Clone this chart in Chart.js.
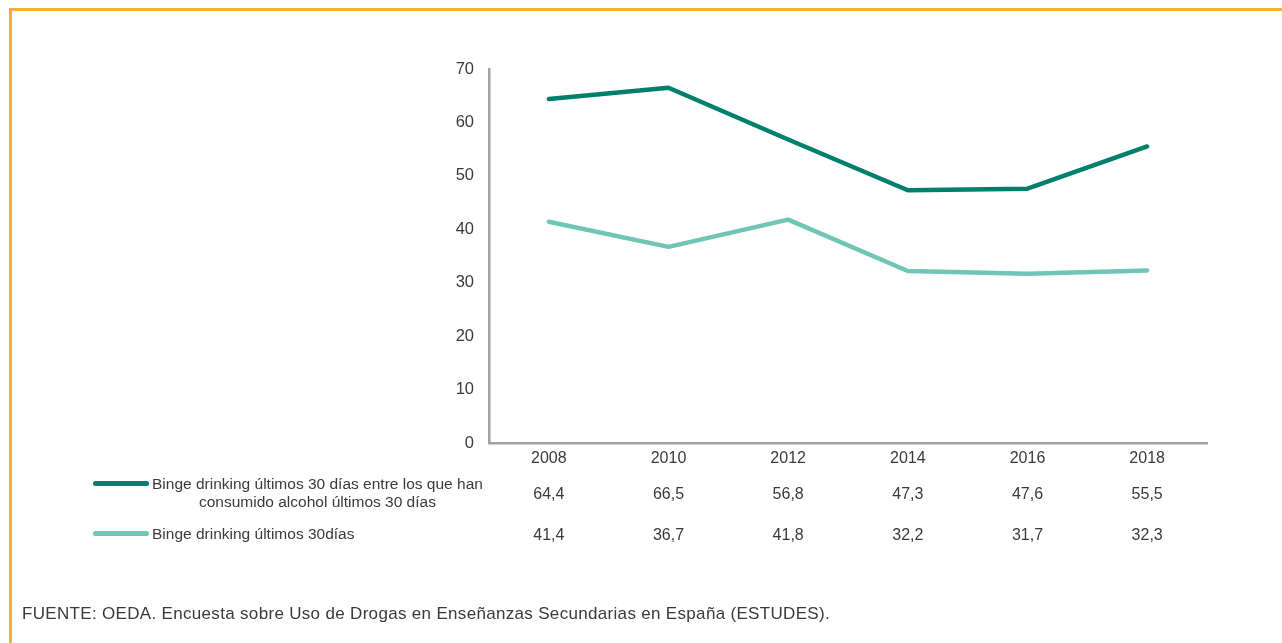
<!DOCTYPE html>
<html>
<head>
<meta charset="utf-8">
<script src="https://cdn.jsdelivr.net/npm/chart.js@4/dist/chart.umd.min.js"></script>
<style>
  html, body { margin: 0; padding: 0; background: #fff; }
  body { width: 1282px; height: 643px; position: relative; overflow: hidden;
         font-family: "Liberation Sans", Arial, Helvetica, sans-serif; color: #3a3a3a; }
  #frame { position: absolute; left: 9px; top: 8px; width: 1290px; height: 700px;
           border-top: 3px solid #fbad34; border-left: 3px solid #fbad34; }
  #wrap { position: absolute; left: 0; top: 0; width: 1282px; height: 643px; }
  .swatch { position: absolute; height: 5px; border-radius: 3px; }
  .txt { position: absolute; font-size: 15.5px; line-height: 18px; white-space: nowrap; }
  .val { position: absolute; font-size: 16px; line-height: 18px; transform: translateX(-50%); white-space: nowrap; }
  #source { position: absolute; left: 22px; top: 604px; font-size: 17px; letter-spacing: 0.32px; white-space: nowrap; }
</style>
</head>
<body>
<div id="frame"></div>
<div id="wrap"><canvas id="c" width="1282" height="643"></canvas></div>
<div id="overlay"></div>
<div id="source">FUENTE: OEDA. Encuesta sobre Uso de Drogas en Enseñanzas Secundarias en España (ESTUDES).</div>
<script>
const years = ["2008", "2010", "2012", "2014", "2016", "2018"];
const bingeConsumers = [64.4, 66.5, 56.8, 47.3, 47.6, 55.5];
const bingeAll = [41.4, 36.7, 41.8, 32.2, 31.7, 32.3];
const seriesNames = [
  "Binge drinking últimos 30 días entre los que han consumido alcohol últimos 30 días",
  "Binge drinking últimos 30días"
];
const seriesLines = [
  ["Binge drinking últimos 30 días entre los que han", "consumido alcohol últimos 30 días"],
  ["Binge drinking últimos 30días"]
];
const yTicks = [0, 10, 20, 30, 40, 50, 60, 70];
const colors = ["#00806b", "#6fc6b6"];

const fontFam = '"Liberation Sans", Arial, Helvetica, sans-serif';

const chart = new Chart(document.getElementById("c"), {
  type: "line",
  data: {
    labels: years,
    datasets: [
      { label: seriesNames[0], data: bingeConsumers, borderColor: colors[0], borderWidth: 4.5,
        pointRadius: 0, tension: 0, fill: false, borderCapStyle: "round", borderJoinStyle: "round" },
      { label: seriesNames[1], data: bingeAll, borderColor: colors[1], borderWidth: 4.5,
        pointRadius: 0, tension: 0, fill: false, borderCapStyle: "round", borderJoinStyle: "round" }
    ]
  },
  options: {
    responsive: false,
    animation: false,
    layout: { padding: { left: 439, right: 75, top: 69, bottom: 170 } },
    plugins: { legend: { display: false }, tooltip: { enabled: false } },
    scales: {
      x: {
        offset: true,
        grid: { display: false, drawTicks: false },
        border: { display: true, color: "#a3a3a3", width: 2.5 },
        ticks: { color: "#3a3a3a", font: { family: fontFam, size: 16 }, padding: 6, maxRotation: 0 },
        afterFit: s => { s.height = 30; }
      },
      y: {
        min: 0, max: 70,
        afterBuildTicks: s => { s.ticks = yTicks.map(v => ({ value: v })); },
        grid: { display: false, drawTicks: false },
        border: { display: true, color: "#a3a3a3", width: 2.5 },
        ticks: { color: "#3a3a3a", font: { family: fontFam, size: 16.5 }, padding: 15 },
        afterFit: s => { s.width = 50; }
      }
    }
  }
});

// Legend + data table under the chart
const overlay = document.getElementById("overlay");
const rowValues = [bingeConsumers, bingeAll];
const rowY = [485, 526];
const swatchY = [481, 531];
const textTop = [475, 525];
rowValues.forEach((vals, r) => {
  const sw = document.createElement("div");
  sw.className = "swatch";
  sw.style.left = "93px"; sw.style.width = "56px";
  sw.style.top = swatchY[r] + "px"; sw.style.background = colors[r];
  overlay.appendChild(sw);
  const t = document.createElement("div");
  t.className = "txt";
  t.style.left = "152px"; t.style.top = textTop[r] + "px";
  t.style.textAlign = "center";
  t.innerHTML = seriesLines[r].join("<br>");
  overlay.appendChild(t);
  vals.forEach((v, i) => {
    const d = document.createElement("div");
    d.className = "val";
    d.style.left = chart.scales.x.getPixelForValue(i) + "px";
    d.style.top = rowY[r] + "px";
    d.textContent = v.toFixed(1).replace(".", ",");
    overlay.appendChild(d);
  });
});
</script>
</body>
</html>
